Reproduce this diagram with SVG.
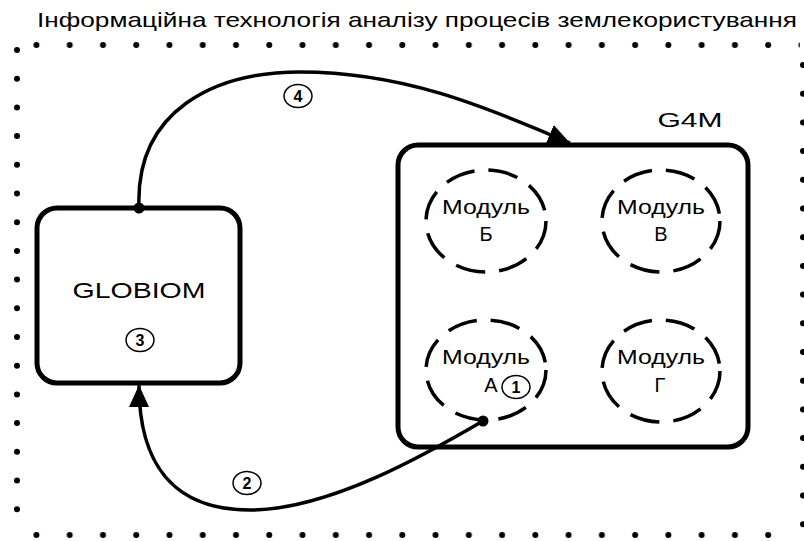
<svg xmlns="http://www.w3.org/2000/svg" width="804" height="541" viewBox="0 0 804 541">
<style>
.t{font-family:"Liberation Sans","DejaVu Sans",sans-serif;fill:#000}
.box{fill:none;stroke:#000;stroke-width:5}
.mod{fill:none;stroke:#000;stroke-width:3.5;stroke-dasharray:30 14}
.con{fill:none;stroke:#000;stroke-width:3.5}
.lbl{fill:#fff;stroke:#000;stroke-width:1.5}
.num{font-family:"Liberation Sans","DejaVu Sans",sans-serif;font-size:16px;font-weight:bold;text-anchor:middle}
.mt{font-size:20px;text-anchor:middle}
</style>
<defs>
<marker id="ah" markerUnits="userSpaceOnUse" markerWidth="24" markerHeight="20" refX="22" refY="10" orient="auto">
<path d="M0,0 L22,10 L0,20 Z" fill="#000"/>
</marker>
<pattern id="dotsH" patternUnits="userSpaceOnUse" width="33.26" height="10"><circle cx="3.2" cy="5" r="3"/></pattern>
</defs>
<rect width="804" height="541" fill="#fff"/>
<g id="border" fill="#000">
<rect x="28.8" y="39" width="771" height="10" fill="url(#dotsH)"/>
<rect x="17.8" y="532" width="771" height="10" fill="url(#dotsH)"/>
<g id="leftcol">
<circle cx="17" cy="50" r="3"/><circle cx="17" cy="78.7" r="3"/><circle cx="17" cy="107.4" r="3"/><circle cx="17" cy="136.1" r="3"/><circle cx="17" cy="164.8" r="3"/><circle cx="17" cy="193.5" r="3"/><circle cx="17" cy="222.2" r="3"/><circle cx="17" cy="250.9" r="3"/><circle cx="17" cy="279.6" r="3"/><circle cx="17" cy="308.3" r="3"/><circle cx="17" cy="337" r="3"/><circle cx="17" cy="365.7" r="3"/><circle cx="17" cy="394.4" r="3"/><circle cx="17" cy="423.1" r="3"/><circle cx="17" cy="451.8" r="3"/><circle cx="17" cy="480.5" r="3"/><circle cx="17" cy="509.2" r="3"/>
</g>
<g id="rightcol">
<circle cx="803" cy="65" r="3"/><circle cx="803" cy="93.7" r="3"/><circle cx="803" cy="122.4" r="3"/><circle cx="803" cy="151.1" r="3"/><circle cx="803" cy="179.8" r="3"/><circle cx="803" cy="208.5" r="3"/><circle cx="803" cy="237.2" r="3"/><circle cx="803" cy="265.9" r="3"/><circle cx="803" cy="294.6" r="3"/><circle cx="803" cy="323.3" r="3"/><circle cx="803" cy="352" r="3"/><circle cx="803" cy="380.7" r="3"/><circle cx="803" cy="409.4" r="3"/><circle cx="803" cy="438.1" r="3"/><circle cx="803" cy="466.8" r="3"/><circle cx="803" cy="495.5" r="3"/><circle cx="803" cy="524.2" r="3"/>
</g>
</g>
<text class="t" x="37" y="27" font-size="21" textLength="760" lengthAdjust="spacingAndGlyphs">Інформаційна технологія аналізу процесів землекористування</text>
<g id="globiom">
<rect class="box" x="37" y="208" width="203" height="175" rx="20"/>
<text class="t" x="139" y="298" font-size="22" text-anchor="middle" textLength="133" lengthAdjust="spacingAndGlyphs">GLOBIOM</text>
</g>
<g id="g4m">
<rect class="box" x="398" y="145" width="350" height="302" rx="20"/>
<text class="t" x="690" y="127" font-size="20" text-anchor="middle" textLength="65" lengthAdjust="spacingAndGlyphs">G4M</text>
</g>
<g id="moduleB">
<ellipse class="mod" cx="486" cy="221" rx="60" ry="51"/>
<text class="t mt" x="486" y="214" textLength="88" lengthAdjust="spacingAndGlyphs">Модуль</text>
<text class="t mt" x="486" y="241">Б</text>
</g>
<g id="moduleV">
<ellipse class="mod" cx="661" cy="221" rx="59" ry="51"/>
<text class="t mt" x="661" y="214" textLength="88" lengthAdjust="spacingAndGlyphs">Модуль</text>
<text class="t mt" x="661" y="241">В</text>
</g>
<g id="moduleA">
<ellipse class="mod" cx="486" cy="370" rx="60" ry="50"/>
<text class="t mt" x="486" y="364" textLength="88" lengthAdjust="spacingAndGlyphs">Модуль</text>
<text class="t mt" x="491" y="392">А</text>
</g>
<g id="moduleG">
<ellipse class="mod" cx="661" cy="371" rx="59" ry="51"/>
<text class="t mt" x="661" y="364" textLength="88" lengthAdjust="spacingAndGlyphs">Модуль</text>
<text class="t mt" x="660" y="392">Г</text>
</g>
<g id="connectors">
<path class="con" d="M139,208 C135,110 215,72 300,72 C400,72 480,104 570,143" marker-end="url(#ah)"/>
<path class="con" d="M483,421 C430,452 330,510 250,510 C170,510 139,460 139,385" marker-end="url(#ah)"/>
<circle cx="139" cy="208" r="5.5"/>
<circle cx="483" cy="421" r="5.5"/>
</g>
<g id="labels">
<ellipse class="lbl" cx="516" cy="387" rx="14" ry="11.5"/><text class="num" x="516" y="393">1</text>
<ellipse class="lbl" cx="247" cy="483" rx="14" ry="11.5"/><text class="num" x="247" y="489">2</text>
<ellipse class="lbl" cx="140" cy="340" rx="14" ry="11.5"/><text class="num" x="140" y="346">3</text>
<ellipse class="lbl" cx="298" cy="96" rx="14" ry="11.5"/><text class="num" x="298" y="102">4</text>
</g>
</svg>
